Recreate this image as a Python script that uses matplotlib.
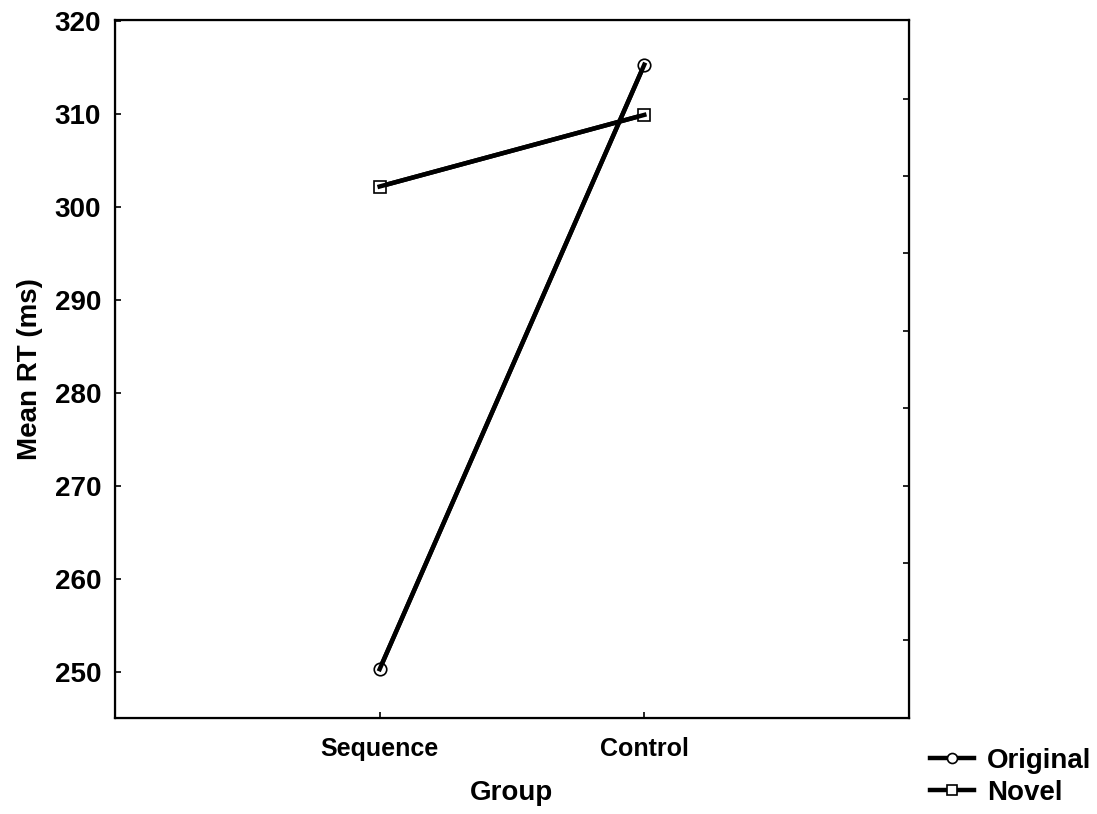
import matplotlib
matplotlib.use("Agg")
import matplotlib.pyplot as plt
from matplotlib.ticker import FixedLocator

# data
groups = ['Sequence', 'Control']
original = [250.3, 315.3]
novel = [302.2, 309.9]
y_ticks = [250, 260, 270, 280, 290, 300, 310, 320]
right_ticks = [253.4, 261.7, 270.0, 278.4, 286.7, 295.0, 303.3, 311.6]

plt.rcParams['font.family'] = ['Liberation Sans', 'DejaVu Sans']
plt.rcParams['font.weight'] = 'bold'

fig = plt.figure(figsize=(10.97, 8.14), dpi=100)
ax = fig.add_axes([0.1048, 0.1179, 0.7238, 0.8575])

x = list(range(len(groups)))
l1, = ax.plot(x, original, color='black', lw=3.2, marker='o', ms=9,
              mfc='white', mec='black', mew=1.2, label='Original', zorder=2)
l2, = ax.plot(x, novel, color='black', lw=3.2, marker='s', ms=9,
              mfc='white', mec='black', mew=1.2, label='Novel', zorder=2)
# lines again on top so they run into the marker centres
ax.plot(x, original, color='black', lw=3.2, zorder=3)
ax.plot(x, novel, color='black', lw=3.2, zorder=3)

ax.set_xlim(-1, 2)
ax.set_ylim(245.05, 320.1)
ax.set_xticks(x)
ax.set_xticklabels(groups, fontsize=18, fontweight='bold')
ax.set_yticks(y_ticks)
ax.set_yticklabels([str(t) for t in y_ticks], fontsize=20, fontweight='bold')
ax.tick_params(axis='x', direction='in', length=4, width=1.2, pad=14, top=False)
ax.tick_params(axis='y', direction='in', length=4, width=1.2, pad=10)
for s in ax.spines.values():
    s.set_linewidth(1.6)

# right side ticks (secondary scale, no labels)
ax.yaxis.set_ticks_position('left')
ax2 = ax.twinx()
ax2.set_ylim(ax.get_ylim())
ax2.yaxis.set_major_locator(FixedLocator(right_ticks))
ax2.tick_params(axis='y', direction='in', length=4, width=1.2, labelright=False)

ax.set_xlabel('Group', fontsize=20, fontweight='bold', labelpad=13)
ax.set_ylabel('Mean RT (ms)', fontsize=20, fontweight='bold', labelpad=8)

fig.legend(handles=[l1, l2], loc='upper left', bbox_to_anchor=(0.835, 0.098),
           frameon=False, fontsize=20, handlelength=1.6, handletextpad=0.45,
           labelspacing=0.2, borderpad=0, markerscale=0.8)

fig.savefig('out.png', dpi=100)
